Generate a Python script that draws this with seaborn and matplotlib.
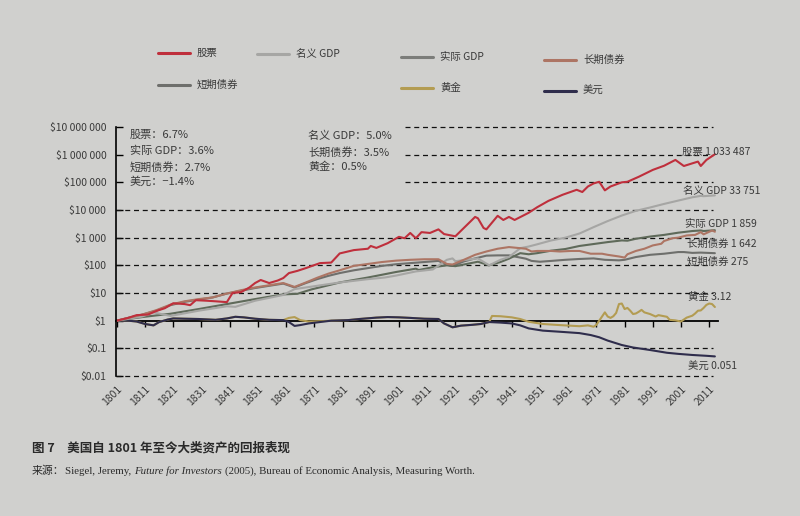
import numpy as np
import pandas as pd
import matplotlib
matplotlib.use("Agg")
import matplotlib.pyplot as plt
from matplotlib.lines import Line2D
from matplotlib.ticker import NullLocator
import seaborn as sns

# ---------------- data: log10 of the value of $1 invested in 1801 ----------------
stocks_years = [1801, 1805, 1808, 1812, 1815, 1818, 1821, 1825, 1827, 1829, 1833, 1836, 1840, 1842, 1845,
                1848, 1850, 1852, 1855, 1858, 1860, 1862, 1865, 1868, 1873, 1877, 1880, 1885, 1890, 1891,
                1893, 1897, 1901, 1903, 1905, 1907, 1909, 1912, 1915, 1917, 1921, 1924, 1928, 1929, 1931,
                1932, 1936, 1938, 1940, 1942, 1947, 1950, 1954, 1959, 1964, 1966, 1968, 1970, 1972, 1974,
                1976, 1980, 1982, 1986, 1990, 1991, 1995, 1999, 2002, 2007, 2008, 2010, 2013]
stocks_log10 = [0.0, 0.1, 0.2, 0.22, 0.35, 0.45, 0.63, 0.6, 0.56, 0.74, 0.72, 0.7, 0.67, 1.0, 1.03,
                1.2, 1.36, 1.47, 1.36, 1.45, 1.54, 1.72, 1.8, 1.9, 2.08, 2.1, 2.43, 2.55, 2.6, 2.7,
                2.63, 2.8, 3.03, 2.98, 3.17, 2.98, 3.2, 3.17, 3.3, 3.13, 3.05, 3.35, 3.75, 3.7, 3.35,
                3.3, 3.79, 3.64, 3.75, 3.64, 3.9, 4.1, 4.33, 4.55, 4.73, 4.65, 4.85, 4.96, 5.02, 4.71,
                4.85, 5.0, 5.02, 5.2, 5.4, 5.45, 5.6, 5.81, 5.59, 5.75, 5.59, 5.81, 6.014]

ngdp_years = [1801, 1810, 1814, 1820, 1830, 1840, 1843, 1850, 1860, 1864, 1870, 1880, 1890, 1896, 1900,
              1907, 1913, 1918, 1920, 1921, 1929, 1933, 1937, 1940, 1944, 1947, 1950, 1955, 1960, 1965,
              1970, 1975, 1980, 1985, 1990, 1995, 2000, 2005, 2008, 2009, 2013]
ngdp_log10 = [0.0, 0.15, 0.3, 0.17, 0.36, 0.52, 0.5, 0.72, 0.93, 1.14, 1.23, 1.38, 1.5, 1.56, 1.63,
              1.78, 1.85, 2.2, 2.25, 2.15, 2.25, 2.0, 2.2, 2.3, 2.62, 2.68, 2.76, 2.9, 3.0, 3.15,
              3.38, 3.6, 3.8, 3.97, 4.09, 4.22, 4.34, 4.46, 4.51, 4.5, 4.528]

rgdp_years = [1801, 1810, 1820, 1830, 1840, 1850, 1860, 1865, 1870, 1880, 1890, 1900, 1907, 1908, 1913,
              1918, 1921, 1929, 1933, 1937, 1940, 1944, 1947, 1950, 1955, 1960, 1965, 1970, 1975, 1980,
              1982, 1985, 1990, 1995, 2000, 2005, 2008, 2009, 2013]
rgdp_log10 = [0.0, 0.13, 0.25, 0.42, 0.6, 0.78, 0.95, 0.97, 1.13, 1.38, 1.56, 1.76, 1.88, 1.83, 1.93,
              2.0, 1.97, 2.13, 2.0, 2.12, 2.24, 2.44, 2.4, 2.44, 2.53, 2.59, 2.7, 2.77, 2.84, 2.9,
              2.89, 2.96, 3.04, 3.1, 3.18, 3.24, 3.26, 3.24, 3.269]

bonds_years = [1801, 1805, 1810, 1815, 1820, 1825, 1830, 1835, 1840, 1845, 1850, 1855, 1860, 1864, 1868,
               1872, 1876, 1880, 1885, 1890, 1895, 1900, 1905, 1910, 1915, 1918, 1920, 1924, 1928, 1932,
               1936, 1940, 1943, 1946, 1948, 1950, 1955, 1958, 1962, 1965, 1969, 1973, 1975, 1979, 1981,
               1982, 1985, 1988, 1991, 1994, 1995, 1998, 2000, 2003, 2006, 2008, 2009, 2012, 2013]
bonds_log10 = [0.0, 0.1, 0.22, 0.38, 0.58, 0.7, 0.78, 0.84, 0.98, 1.1, 1.2, 1.28, 1.36, 1.22, 1.38,
               1.55, 1.7, 1.82, 1.98, 2.05, 2.12, 2.17, 2.2, 2.22, 2.22, 2.05, 2.03, 2.2, 2.38, 2.5,
               2.6, 2.66, 2.63, 2.6, 2.5, 2.52, 2.52, 2.5, 2.52, 2.52, 2.42, 2.42, 2.38, 2.32, 2.28,
               2.4, 2.52, 2.6, 2.72, 2.78, 2.88, 2.98, 3.0, 3.08, 3.1, 3.2, 3.12, 3.26, 3.215]

bills_years = [1801, 1805, 1810, 1815, 1820, 1825, 1830, 1835, 1840, 1845, 1850, 1855, 1860, 1864, 1868,
               1872, 1876, 1880, 1885, 1890, 1895, 1900, 1905, 1910, 1915, 1918, 1920, 1924, 1928, 1932,
               1936, 1940, 1943, 1946, 1948, 1951, 1955, 1960, 1965, 1970, 1974, 1979, 1981, 1985, 1990,
               1995, 2000, 2002, 2005, 2008, 2013]
bills_log10 = [0.0, 0.1, 0.22, 0.36, 0.56, 0.68, 0.76, 0.84, 0.98, 1.08, 1.18, 1.26, 1.34, 1.2, 1.36,
               1.5, 1.62, 1.72, 1.82, 1.9, 1.98, 2.04, 2.08, 2.12, 2.16, 2.02, 1.98, 2.14, 2.25, 2.35,
               2.36, 2.36, 2.3, 2.24, 2.16, 2.13, 2.16, 2.2, 2.23, 2.25, 2.2, 2.18, 2.2, 2.3, 2.38,
               2.42, 2.48, 2.48, 2.45, 2.46, 2.439]

gold_years = [1801, 1805, 1808, 1811, 1814, 1816, 1819, 1821, 1825, 1830, 1836, 1840, 1843, 1846, 1850,
              1855, 1860, 1862, 1864, 1866, 1869, 1873, 1877, 1883, 1887, 1893, 1897, 1901, 1905, 1910,
              1915, 1917, 1920, 1923, 1927, 1930, 1933, 1934, 1937, 1941, 1944, 1947, 1952, 1958, 1965,
              1968, 1970, 1971, 1972, 1973, 1974, 1975, 1976, 1977, 1978, 1979, 1980, 1981, 1982, 1983,
              1984, 1985, 1986, 1987, 1988, 1990, 1992, 1993, 1996, 1997, 1999, 2001, 2002, 2003, 2005,
              2006, 2007, 2008, 2009, 2010, 2011, 2012, 2013]
gold_log10 = [0.0, 0.0, -0.03, -0.12, -0.17, -0.05, 0.04, 0.08, 0.07, 0.06, 0.03, 0.08, 0.14, 0.12, 0.07,
              0.03, 0.02, 0.1, 0.13, 0.02, -0.03, -0.02, 0.0, 0.02, 0.06, 0.11, 0.13, 0.12, 0.1, 0.07,
              0.06, -0.1, -0.24, -0.18, -0.15, -0.12, -0.05, 0.17, 0.16, 0.12, 0.06, -0.04, -0.12, -0.16, -0.2,
              -0.17, -0.22, -0.15, 0.0, 0.15, 0.3, 0.15, 0.1, 0.16, 0.28, 0.6, 0.62, 0.42, 0.46, 0.36,
              0.24, 0.26, 0.32, 0.39, 0.3, 0.24, 0.15, 0.2, 0.14, 0.03, 0.01, -0.03, 0.04, 0.11, 0.18,
              0.26, 0.36, 0.37, 0.46, 0.57, 0.62, 0.6, 0.494]

dollar_years = [1801, 1805, 1808, 1811, 1814, 1816, 1819, 1821, 1825, 1830, 1836, 1840, 1843, 1846, 1850,
                1855, 1860, 1862, 1864, 1866, 1869, 1873, 1877, 1883, 1887, 1893, 1897, 1901, 1905, 1910,
                1915, 1917, 1920, 1923, 1927, 1930, 1933, 1937, 1941, 1944, 1947, 1952, 1958, 1965, 1969,
                1972, 1975, 1980, 1984, 1990, 1996, 2000, 2005, 2010, 2013]
dollar_log10 = [0.0, 0.0, -0.03, -0.12, -0.17, -0.05, 0.04, 0.08, 0.07, 0.06, 0.03, 0.08, 0.14, 0.12, 0.07,
                0.03, 0.02, -0.05, -0.19, -0.16, -0.1, -0.05, 0.0, 0.02, 0.06, 0.11, 0.13, 0.12, 0.1, 0.07,
                0.06, -0.1, -0.24, -0.18, -0.15, -0.12, -0.05, -0.07, -0.1, -0.17, -0.28, -0.36, -0.4, -0.45, -0.52,
                -0.6, -0.72, -0.88, -0.97, -1.06, -1.16, -1.2, -1.24, -1.27, -1.292]

series_names = ["股票", "名义 GDP", "实际 GDP", "长期债券", "短期债券", "黄金", "美元"]
end_labels = ["股票 1 033 487", "名义 GDP 33 751", "实际 GDP 1 859", "长期债券 1 642",
              "短期债券 275", "黄金 3.12", "美元 0.051"]
cagr_left = ["股票：6.7%", "实际 GDP：3.6%", "短期债券：2.7%", "美元：−1.4%"]
cagr_right = ["名义 GDP：5.0%", "长期债券：3.5%", "黄金：0.5%"]
ytick_vals = [0.01, 0.1, 1, 10, 100, 1e3, 1e4, 1e5, 1e6, 1e7]
ytick_labels = ["$0.01", "$0.1", "$1", "$10", "$100", "$1 000", "$10 000", "$100 000",
                "$1 000 000", "$10 000 000"]
xtick_years = list(range(1801, 2012, 10))
title_text = "图 7　美国自 1801 年至今大类资产的回报表现"

colors = {"股票": "#bf2f3c", "名义 GDP": "#a6a6a4", "实际 GDP": "#5f6a5a", "长期债券": "#ad7564",
          "短期债券": "#6e6f6c", "黄金": "#b39c52", "美元": "#2f2d4c"}
legend_colors = dict(colors, **{"实际 GDP": "#7c7d7a"})

# ---------------- build long table ----------------
raw = {"股票": (stocks_years, stocks_log10), "名义 GDP": (ngdp_years, ngdp_log10),
       "实际 GDP": (rgdp_years, rgdp_log10), "长期债券": (bonds_years, bonds_log10),
       "短期债券": (bills_years, bills_log10), "黄金": (gold_years, gold_log10),
       "美元": (dollar_years, dollar_log10)}
rows = []
for name, (yrs, lg) in raw.items():
    for yr, v in zip(yrs, lg):
        rows.append((name, yr, 10.0 ** v))
df = pd.DataFrame(rows, columns=["series", "year", "value"])

# ---------------- figure ----------------
sns.set_theme(style="white")
plt.rcParams["font.family"] = ["Noto Sans CJK SC", "DejaVu Sans"]
plt.rcParams["axes.unicode_minus"] = True

W, H = 800, 516
BG = "#d0d0ce"
TXT = "#3a3a3a"
fig = plt.figure(figsize=(W / 100, H / 100), dpi=100, facecolor=BG)

def fx(x):
    return x / W

def fy(y):
    return 1 - y / H

ax = fig.add_axes([fx(116), fy(376), (717.7 - 116) / W, (376 - 127) / H])
ax.set_facecolor(BG)

draw_order = ["黄金", "美元", "短期债券", "实际 GDP", "名义 GDP", "长期债券", "股票"]
sns.lineplot(data=df, x="year", y="value", hue="series", hue_order=draw_order,
             palette=colors, estimator=None, sort=False, legend=False, lw=1.5, ax=ax)

ax.set_yscale("log")
ax.set_ylim(0.01, 1e7)
ax.set_xlim(1800.7, 2014)

# gridlines
for v in [1e-2, 1e-1, 10, 100, 1e3, 1e4]:
    ax.hlines(v, 1800.7, 2012.3, colors="#111111", linestyles=(0, (4, 3)), lw=0.9, clip_on=False, zorder=1)
for v in [1e5, 1e6, 1e7]:
    ax.hlines(v, 1903, 2012.3, colors="#111111", linestyles=(0, (4, 3)), lw=0.9, clip_on=False, zorder=1)

# spines / ticks
for s in ["top", "right", "bottom"]:
    ax.spines[s].set_visible(False)
ax.spines["left"].set_color("black")
ax.spines["left"].set_linewidth(1.2)
ax.set_yticks(ytick_vals)
ax.set_yticklabels(ytick_labels)
ax.yaxis.set_minor_locator(NullLocator())
ax.tick_params(axis="y", which="major", direction="in", length=5, width=1, color="black",
               labelcolor=TXT, labelsize=7.5, pad=7, left=True)
ax.set_xticks(xtick_years)
ax.set_xticklabels([str(y) for y in xtick_years], rotation=45, ha="right",
                   rotation_mode="anchor")
ax.tick_params(axis="x", length=0, labelcolor=TXT, labelsize=7.5, pad=6)
ax.set_xlabel("")
ax.set_ylabel("")

# the $1 base line with decade ticks
sec = ax.secondary_xaxis(2 / 9)
sec.set_xticks(xtick_years)
sec.tick_params(direction="out", length=4, width=1, color="black", labelbottom=False, labeltop=False)
for sp in sec.spines.values():
    sp.set_color("black")
    sp.set_linewidth(1.3)

# legend (manual, two rows)
legend_pos = {"股票": (158, 53), "名义 GDP": (257, 54), "实际 GDP": (401, 57), "长期债券": (544, 60),
              "短期债券": (158, 85), "黄金": (401, 88), "美元": (544, 91)}
for name in series_names:
    x0, yy = legend_pos[name]
    fig.add_artist(Line2D([fx(x0), fx(x0 + 32)], [fy(yy), fy(yy)], color=legend_colors[name], lw=2.2,
                          transform=fig.transFigure))
    fig.text(fx(x0 + 39), fy(yy), name, fontsize=7.5, color=TXT, va="center", ha="left")

# CAGR notes
for i, s in enumerate(cagr_left):
    fig.text(fx(130), fy([135, 151, 167, 182][i]), s, fontsize=8, color=TXT, va="center", ha="left")
for i, s in enumerate(cagr_right):
    fig.text(fx(308), fy([136, 152, 167][i]), s, fontsize=8, color=TXT, va="center", ha="left")

# end labels
end_pos = [(682, 152), (683, 191), (685, 224), (687, 244), (687, 262), (688, 297), (688, 367)]
for s, (xx, yy) in zip(end_labels, end_pos):
    fig.text(fx(xx), fy(yy), s, fontsize=7.5, color=TXT, va="center", ha="left")

# caption
fig.text(fx(32), fy(448), title_text, fontsize=9, fontweight="bold", color="#2a2a2a",
         va="center", ha="left")

r = fig.canvas.get_renderer()
parts = [("来源：", dict(family=["Noto Sans CJK SC", "DejaVu Sans"]), 0),
         ("Siegel, Jeremy,", dict(family="Liberation Serif"), 3),
         ("Future for Investors", dict(family="Liberation Serif", style="italic"), 3),
         ("(2005), Bureau of Economic Analysis, Measuring Worth.", dict(family="Liberation Serif"), 0)]
xcur = 32
for s, kw, gap in parts:
    t = fig.text(fx(xcur), fy(471), s, fontsize=7.8, color="#2a2a2a", va="center", ha="left", **kw)
    bb = t.get_window_extent(renderer=r)
    xcur += bb.width + gap

fig.savefig("out.png", dpi=100, facecolor=BG)
